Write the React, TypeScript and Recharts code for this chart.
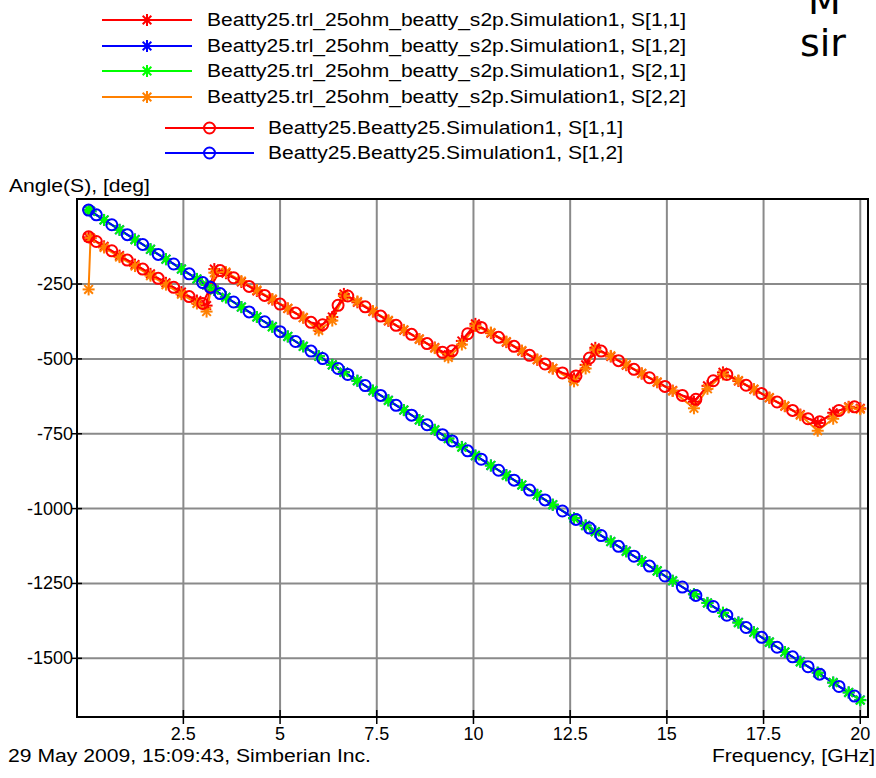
import React from "react";
import {
  LineChart,
  Line,
  XAxis,
  YAxis,
  CartesianGrid,
  ReferenceArea,
} from "recharts";

// frequencies (GHz) of the trl_25ohm s2p model points
const trlFreq = [
  0.05, 0.1, 0.45, 0.85, 1.25, 1.65, 2.05, 2.45, 2.85, 3.1, 3.3, 3.6, 4.0, 4.4,
  4.8, 5.2, 5.6, 6.0, 6.35, 6.65, 7.0, 7.4, 7.8, 8.2, 8.6, 9.0, 9.35, 9.7,
  10.05, 10.45, 10.85, 11.25, 11.65, 12.05, 12.6, 12.9, 13.15, 13.55, 13.95,
  14.35, 14.75, 15.15, 15.7, 16.05, 16.45, 16.85, 17.25, 17.65, 18.05, 18.45,
  18.9, 19.3, 19.7, 20.0,
];
const trlS11 = [
  -94, -97, -124, -155, -185, -216, -246, -277, -305, -322, -200, -214, -243,
  -273, -302, -332, -362, -396, -360, -283, -311, -342, -373, -404, -434, -462,
  -486, -440, -383, -414, -444, -474, -503, -532, -565, -520, -463, -492, -521,
  -549, -578, -606, -643, -590, -545, -574, -602, -630, -658, -686, -714, -680,
  -660, -665,
];
const trlS12 = [
  -3, -7, -36, -69, -101, -134, -167, -200, -233, -253, -270, -294, -327, -360,
  -392, -425, -458, -491, -520, -544, -573, -606, -638, -671, -704, -737, -766,
  -794, -823, -856, -888, -921, -954, -987, -1032, -1056, -1077, -1110, -1142,
  -1175, -1208, -1241, -1286, -1315, -1348, -1380, -1413, -1446, -1479, -1511,
  -1548, -1581, -1614, -1639,
];
const trlS21 = [
  -3, -7, -36, -69, -102, -134, -167, -200, -233, -253, -270, -295, -327, -360,
  -393, -425, -458, -491, -520, -545, -573, -606, -639, -671, -704, -737, -766,
  -795, -823, -856, -889, -921, -954, -987, -1032, -1057, -1077, -1110, -1143,
  -1175, -1208, -1241, -1286, -1315, -1348, -1381, -1413, -1446, -1479, -1512,
  -1548, -1581, -1614, -1640,
];
const trlS22 = [
  -268, -96, -128, -160, -190, -222, -252, -284, -315, -342, -212, -210, -240,
  -270, -300, -331, -362, -405, -372, -290, -308, -340, -371, -403, -434, -464,
  -495, -452, -390, -412, -442, -472, -502, -532, -575, -532, -470, -490, -519,
  -548, -577, -607, -665, -600, -552, -572, -601, -629, -657, -688, -740, -700,
  -662, -668,
];

// frequencies (GHz) of the Beatty25 simulation points
const btyFreq = [
  0.05, 0.25, 0.65, 1.05, 1.45, 1.85, 2.25, 2.65, 3.0, 3.2, 3.45, 3.8, 4.2, 4.6,
  5.0, 5.4, 5.8, 6.1, 6.5, 6.75, 7.2, 7.6, 8.0, 8.4, 8.8, 9.2, 9.45, 9.85, 10.2,
  10.65, 11.05, 11.45, 11.85, 12.3, 12.65, 13.0, 13.3, 13.75, 14.15, 14.55,
  14.95, 15.4, 15.75, 16.2, 16.55, 17.05, 17.45, 17.85, 18.25, 18.65, 18.95,
  19.45, 19.85,
];
const btyS11 = [
  -92, -108, -139, -170, -200, -231, -261, -292, -315, -261, -205, -229, -258,
  -288, -317, -347, -378, -386, -321, -290, -326, -357, -388, -418, -449, -478,
  -473, -416, -395, -428, -458, -488, -517, -547, -557, -497, -474, -506, -535,
  -563, -592, -622, -635, -573, -552, -588, -616, -644, -672, -700, -710, -672,
  -660,
];
const btyS12 = [
  -3, -19, -52, -85, -118, -151, -183, -216, -245, -261, -282, -310, -343, -376,
  -409, -442, -474, -499, -532, -552, -589, -622, -655, -688, -720, -753, -774,
  -807, -835, -872, -905, -938, -971, -1008, -1036, -1065, -1090, -1126, -1159,
  -1192, -1225, -1262, -1290, -1327, -1356, -1397, -1430, -1463, -1495, -1528,
  -1553, -1594, -1626,
];

const xTicks = [2.5, 5, 7.5, 10, 12.5, 15, 17.5, 20];
const yTicks = [-250, -500, -750, -1000, -1250, -1500];
const xDomain = [-0.25, 20.2];
const yDomain = [-1696, 34];

const legendItems = [
  { name: "Beatty25.trl_25ohm_beatty_s2p.Simulation1, S[1,1]", color: "#ff0000", mark: "star" },
  { name: "Beatty25.trl_25ohm_beatty_s2p.Simulation1, S[1,2]", color: "#0000ff", mark: "star" },
  { name: "Beatty25.trl_25ohm_beatty_s2p.Simulation1, S[2,1]", color: "#00ff00", mark: "star" },
  { name: "Beatty25.trl_25ohm_beatty_s2p.Simulation1, S[2,2]", color: "#ff8000", mark: "star" },
  { name: "Beatty25.Beatty25.Simulation1, S[1,1]", color: "#ff0000", mark: "circle" },
  { name: "Beatty25.Beatty25.Simulation1, S[1,2]", color: "#0000ff", mark: "circle" },
];

const toPts = (fs: number[], vs: number[]) => fs.map((f, i) => ({ f, v: vs[i] }));

const W = 876;
const H = 778;
const LEFT = 77;
const TOP = 199;
const RIGHT = 868;
const BOTTOM = 717;
const FONT = "'Liberation Sans', Arial, sans-serif";

function Star({ cx, cy, color }: { cx: number; cy: number; color: string }) {
  const r = 6;
  const d = r * 0.72;
  return (
    <g stroke={color} strokeWidth={2}>
      <line x1={cx - r} x2={cx + r} y1={cy} y2={cy} />
      <line x1={cx} x2={cx} y1={cy - r} y2={cy + r} />
      <line x1={cx - d} x2={cx + d} y1={cy - d} y2={cy + d} />
      <line x1={cx - d} x2={cx + d} y1={cy + d} y2={cy - d} />
    </g>
  );
}

function Ring({ cx, cy, color }: { cx: number; cy: number; color: string }) {
  return <circle cx={cx} cy={cy} r={5.5} fill="none" stroke={color} strokeWidth={2} />;
}

const starDot = (color: string) => (p: any) =>
  p.cx == null ? <g key={p.index} /> : <Star key={p.index} cx={p.cx} cy={p.cy} color={color} />;
const ringDot = (color: string) => (p: any) =>
  p.cx == null ? <g key={p.index} /> : <Ring key={p.index} cx={p.cx} cy={p.cy} color={color} />;

function XTick(props: any) {
  const { x, payload } = props;
  return (
    <g>
      <line x1={x} x2={x} y1={BOTTOM - 7} y2={BOTTOM + 7} stroke="#000" strokeWidth={1.5} />
      <text x={x} y={BOTTOM + 23} textAnchor="middle" fontFamily={FONT} fontSize={18} fill="#000">
        {payload.value}
      </text>
    </g>
  );
}

function YTick(props: any) {
  const { y, payload } = props;
  return (
    <g>
      <line x1={LEFT - 5} x2={LEFT + 5} y1={y} y2={y} stroke="#000" strokeWidth={1.5} />
      <text x={LEFT - 4} y={y + 6} textAnchor="end" fontFamily={FONT} fontSize={18} fill="#000">
        {payload.value}
      </text>
    </g>
  );
}

function Overlay() {
  const rowsY = [20, 46, 71, 97, 128, 153];
  return (
    <svg
      width={W}
      height={H}
      style={{ position: "absolute", left: 0, top: 0, pointerEvents: "none" }}
      fontFamily={FONT}
      fontSize={18}
    >
      {legendItems.map((it, i) => {
        const y = rowsY[i];
        const star = it.mark === "star";
        const x1 = star ? 102 : 165;
        const x2 = star ? 192 : 254;
        const tx = star ? 207 : 268;
        const tw = star ? 479 : 355;
        const mx = (x1 + x2) / 2;
        return (
          <g key={it.name}>
            <line x1={x1} x2={x2} y1={y} y2={y} stroke={it.color} strokeWidth={2} />
            {star ? <Star cx={mx} cy={y} color={it.color} /> : <Ring cx={mx} cy={y} color={it.color} />}
            <text x={tx} y={y + 6} textLength={tw} lengthAdjust="spacingAndGlyphs" fill="#000">
              {it.name}
            </text>
          </g>
        );
      })}
      <text x={9} y={192} textLength={141} lengthAdjust="spacingAndGlyphs" fill="#000">
        Angle(S), [deg]
      </text>
      <text x={8} y={762} textLength={363} lengthAdjust="spacingAndGlyphs" fill="#000">
        29 May 2009, 15:09:43, Simberian Inc.
      </text>
      <text x={712} y={762} textLength={163} lengthAdjust="spacingAndGlyphs" fill="#000">
        Frequency, [GHz]
      </text>
      <text x={808} y={14} fontFamily="'DejaVu Sans', sans-serif" fontSize={38} fill="#000">
        M
      </text>
      <text x={800} y={56} fontFamily="'DejaVu Sans', sans-serif" fontSize={38} fill="#000">
        sir
      </text>
    </svg>
  );
}

export default function App() {
  return (
    <div style={{ position: "absolute", left: 0, top: 0, width: W, height: H, background: "#fff", overflow: "hidden" }}>
      <LineChart width={W} height={H} margin={{ top: TOP, right: W - RIGHT, left: 0, bottom: 0 }}>
        <CartesianGrid stroke="#8a8a8a" strokeWidth={2} />
        <XAxis
          dataKey="f"
          type="number"
          domain={xDomain}
          ticks={xTicks}
          allowDataOverflow
          height={H - BOTTOM}
          axisLine={false}
          tickLine={false}
          tick={XTick}
        />
        <YAxis
          dataKey="v"
          type="number"
          domain={yDomain}
          ticks={yTicks}
          allowDataOverflow
          width={LEFT}
          axisLine={false}
          tickLine={false}
          tick={YTick}
        />
        <ReferenceArea
          x1={xDomain[0]}
          x2={xDomain[1]}
          y1={yDomain[0]}
          y2={yDomain[1]}
          fill="none"
          stroke="#000"
          strokeWidth={2}
          ifOverflow="visible"
        />
        <Line data={toPts(trlFreq, trlS11)} dataKey="v" stroke="#ff0000" strokeWidth={2} dot={starDot("#ff0000")} isAnimationActive={false} />
        <Line data={toPts(trlFreq, trlS12)} dataKey="v" stroke="#0000ff" strokeWidth={2} dot={starDot("#0000ff")} isAnimationActive={false} />
        <Line data={toPts(trlFreq, trlS21)} dataKey="v" stroke="#00ff00" strokeWidth={2} dot={starDot("#00ff00")} isAnimationActive={false} />
        <Line data={toPts(trlFreq, trlS22)} dataKey="v" stroke="#ff8000" strokeWidth={2} dot={starDot("#ff8000")} isAnimationActive={false} />
        <Line data={toPts(btyFreq, btyS11)} dataKey="v" stroke="#ff0000" strokeWidth={2} dot={ringDot("#ff0000")} isAnimationActive={false} />
        <Line data={toPts(btyFreq, btyS12)} dataKey="v" stroke="#0000ff" strokeWidth={2} dot={ringDot("#0000ff")} isAnimationActive={false} />
      </LineChart>
      <Overlay />
    </div>
  );
}
